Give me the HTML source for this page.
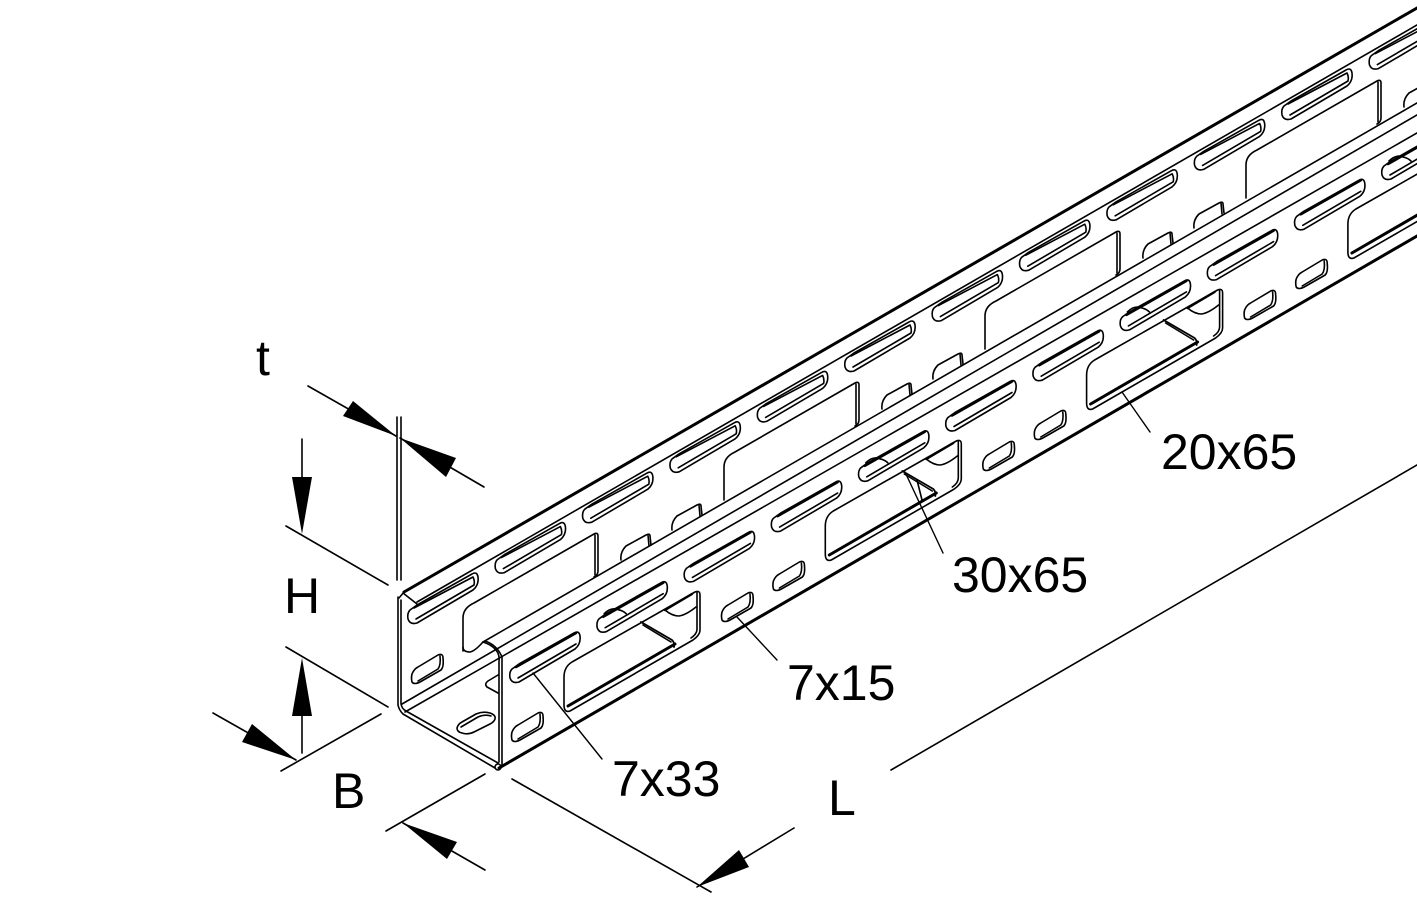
<!DOCTYPE html>
<html>
<head>
<meta charset="utf-8">
<style>
html,body{margin:0;padding:0;background:#fff;}
svg{display:block;}
text{font-family:"Liberation Sans",sans-serif;font-size:50px;fill:#000;}
</style>
</head>
<body>
<svg xmlns="http://www.w3.org/2000/svg" width="1417" height="913" viewBox="0 0 1417 913">
<defs>
  <g id="slot">
    <path d="M9,-13 L64,-44 Q69,-47 70,-41 Q71,-33 65,-28 L9,5 Q2,7 0,1 Q-1,-5 2,-8 Z"/>
    <path d="M6,-10 L65,-41 Q67,-37 66,-33 L8,1"/>
  </g>
  <g id="fslot">
    <path d="M9,-13 L64,-44 Q69,-47 70,-41 Q71,-33 65,-28 L9,5 Q2,7 0,1 Q-1,-5 2,-8 Z"/>
    <path d="M6,-10 L66,-44" stroke-width="2.6"/>
    <path d="M8,1 L66,-33"/>
  </g>
  <g id="oval">
    <path d="M0,-8 Q2,-13 6,-15 L26,-27 Q31,-29 31,-24 Q32,-15 29,-12 L8,0 Q2,3 0,0 Q-1,-4 0,-8 Z"/>
    <path d="M28,-26 Q29,-17 26,-13 L6,-1"/>
  </g>
  <g id="part">
    <path d="M0,0 Q-1,-8 5,-14 L25,-25 Q29,-27 29,-24 L30,-15"/>
    <path d="M27,-25 L28,-14"/>
  </g>
  <g id="back">
    <path d="M0,0 L0,-33 Q0,-43 11,-48 L131,-117 Q135,-119 135,-115 L135,-80 Q135,-76 131,-74"/>
    <path d="M132,-116 L132,-76"/>
  </g>
  <g id="cut">
    <path d="M0,-2 L0,-30 Q0,-40 8,-45 L131,-115 Q136,-117 136,-112 L136,-77 Q136,-72 129,-67 L6,4 Q0,6 0,-2 Z"/>
    <path d="M133,-115 L133,-78 Q133,-73 127,-69"/>
    <path d="M4,-1 L111,-63" stroke-width="3"/>
    <path d="M77,-85 L108,-67 Q111,-64 110,-60" stroke-width="1.8"/>
    <path d="M79,-82 L107,-65"/>
    <path d="M101,-97 Q108,-91 115,-91 Q122,-92 132,-100"/>
    <path d="M101,-97 L128,-113" stroke-width="2.4"/>
  </g>
  <path id="arc" d="M7,-13 Q14,-20 21,-17 Q26,-16 29,-13"/>
</defs>

<g fill="none" stroke="#000" stroke-width="1.6" stroke-linecap="round" stroke-linejoin="round">
  <!-- outer edges -->
  <path d="M404,592 L1417,8" stroke-width="3"/>
  <path d="M417,602 L1417,25"/>
  <path d="M403,593 L417,604"/>
  <path d="M399,598 L404,592"/>
  <path d="M483,642 L1417,103"/>
  <path d="M402,704 L1417,115"/>
  <path d="M405,712 L1417,133"/>
  <path d="M499,768 L1417,236" stroke-width="3"/>

  <!-- left / bottom corner -->
  <path d="M398,597 L398,705 Q399,710 403,714 L495,768"/>
  <path d="M401,600 L401,704 Q402,709 406,711 L498,763"/>
  <path d="M483,642 Q492,645 496,650 Q500,655 499,662 L499,762"/>
  <path d="M485,641 Q497,645 502,657 L502,765"/>
  <circle cx="498" cy="767" r="3"/>

  <!-- back web slots -->
  <use href="#slot" x="408" y="618"/>
  <use href="#slot" x="495.4" y="567.6"/>
  <use href="#slot" x="582.8" y="517.2"/>
  <use href="#slot" x="670.2" y="466.8"/>
  <use href="#slot" x="757.6" y="416.4"/>
  <use href="#slot" x="845" y="366"/>
  <use href="#slot" x="932.4" y="315.6"/>
  <use href="#slot" x="1019.8" y="265.2"/>
  <use href="#slot" x="1107.2" y="214.8"/>
  <use href="#slot" x="1194.6" y="164.4"/>
  <use href="#slot" x="1282" y="114"/>
  <use href="#slot" x="1369.4" y="63.6"/>

  <!-- back web cutouts -->
  <use href="#back" x="463" y="651"/>
  <path d="M463,647 Q463,652 470,652 Q475,651 483,642"/>
  <use href="#back" x="724" y="500"/>
  <use href="#back" x="985" y="349"/>
  <use href="#back" x="1246" y="198"/>

  <!-- part ovals behind flange -->
  <use href="#part" x="621" y="560"/>
  <use href="#part" x="672" y="530"/>
  <use href="#part" x="882" y="409"/>
  <use href="#part" x="933" y="379"/>
  <use href="#part" x="1143" y="258"/>
  <use href="#part" x="1194" y="228"/>
  <use href="#part" x="1404" y="107"/>

  <!-- front face slots -->
  <use href="#fslot" x="510" y="677"/>
  <use href="#fslot" x="597.2" y="626.7"/>
  <use href="#fslot" x="684.4" y="576.4"/>
  <use href="#fslot" x="771.6" y="526.1"/>
  <use href="#fslot" x="858.8" y="475.8"/>
  <use href="#fslot" x="946" y="425.5"/>
  <use href="#fslot" x="1033.2" y="375.2"/>
  <use href="#fslot" x="1120.4" y="324.9"/>
  <use href="#fslot" x="1207.6" y="274.6"/>
  <use href="#fslot" x="1294.8" y="224.3"/>
  <use href="#fslot" x="1382" y="174"/>
  <use href="#arc" x="597.2" y="626.7"/>
  <use href="#arc" x="858.8" y="475.8"/>
  <use href="#arc" x="1120.4" y="324.9"/>
  <use href="#arc" x="1382" y="174"/>

  <!-- front big cutouts -->
  <use href="#cut" x="564" y="707"/>
  <use href="#cut" x="825.3" y="556"/>
  <use href="#cut" x="1086.6" y="405"/>
  <use href="#cut" x="1347.9" y="254"/>
  <path d="M917,480 L922,500"/>

  <!-- ovals -->
  <use href="#oval" x="412" y="682"/>
  <use href="#oval" x="512" y="740"/>
  <use href="#oval" x="722" y="620"/>
  <use href="#oval" x="773.4" y="589"/>
  <use href="#oval" x="983.3" y="469"/>
  <use href="#oval" x="1034.8" y="438"/>
  <use href="#oval" x="1244.6" y="318"/>
  <use href="#oval" x="1296.2" y="287"/>

  <!-- floor oval -->
  <path d="M457,728 Q458,724 462,722 L476,714 Q483,711 490,713 Q496,715 495,719 Q494,722 490,724 L474,732 Q468,735 462,733 Q457,732 457,728 Z"/>
  <path d="M461,727 L478,717 Q485,714 491,716"/>
  <path d="M498,675 L488,681 Q484,684 487,687 L498,693"/>

  <!-- leaders -->
  <path d="M533,673 L602,759" stroke-width="1.4"/>
  <path d="M737,617 L777,660" stroke-width="1.4"/>
  <path d="M905,472 L943,553" stroke-width="1.4"/>
  <path d="M1122,392 L1150,432" stroke-width="1.4"/>

  <!-- dimension lines -->
  <path d="M308,386 L396,436"/>
  <path d="M400,438 L484,487"/>
  <path d="M397,417 L397,580"/>
  <path d="M401,417 L401,580"/>
  <path d="M302,439 L302,480"/>
  <path d="M286,526 L388,585"/>
  <path d="M286,647 L388,707"/>
  <path d="M302,716 L302,753"/>
  <path d="M213,713 L296,760"/>
  <path d="M281,771 L381,714"/>
  <path d="M386,831 L485,774"/>
  <path d="M403,823 L485,870"/>
  <path d="M512,779 L711,892"/>
  <path d="M697,887 L794,828"/>
  <path d="M891,770 L1417,465"/>
</g>

<!-- arrowheads -->
<g fill="#000" stroke="none">
  <polygon points="396,436 353,401 343,416"/>
  <polygon points="400,438 456,458 446,477"/>
  <polygon points="302,534 292,477 312,477"/>
  <polygon points="302,658 292,716 312,716"/>
  <polygon points="296,760 252,724 242,742"/>
  <polygon points="403,823 457,842 447,859"/>
  <polygon points="697,887 739,850 749,867"/>
</g>

<!-- labels -->
<text x="256" y="375">t</text>
<text x="284" y="613">H</text>
<text x="332" y="808">B</text>
<text x="828" y="815">L</text>
<text x="612" y="796">7x33</text>
<text x="787" y="700">7x15</text>
<text x="952" y="592">30x65</text>
<text x="1161" y="469">20x65</text>
</svg>
</body>
</html>
